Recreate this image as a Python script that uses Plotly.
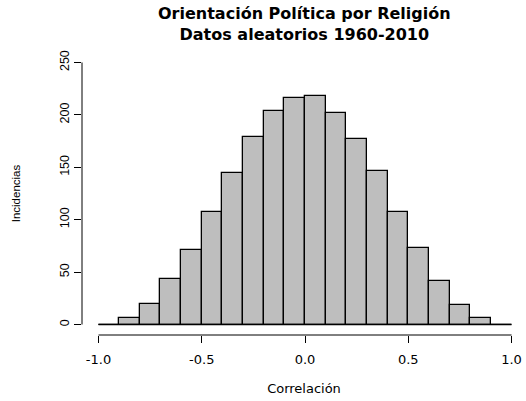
import plotly.graph_objects as go

# histogram bins (left edges) and counts
bin_edges = [-1.0, -0.9, -0.8, -0.7, -0.6, -0.5, -0.4, -0.3, -0.2, -0.1,
             0.0, 0.1, 0.2, 0.3, 0.4, 0.5, 0.6, 0.7, 0.8, 0.9, 1.0]
counts = [0, 6, 20, 43, 71, 107, 145, 179, 204, 216,
          218, 202, 177, 146, 107, 73, 42, 19, 6, 0]
x_ticks = [-1.0, -0.5, 0.0, 0.5, 1.0]
x_ticklabels = ['-1.0', '-0.5', '0.0', '0.5', '1.0']
y_ticks = [0, 50, 100, 150, 200, 250]
title_text = '<b>Orientación Política por Religión<br>Datos aleatorios 1960-2010</b>'

centers = [(a + b) / 2 for a, b in zip(bin_edges[:-1], bin_edges[1:])]
widths = [b - a for a, b in zip(bin_edges[:-1], bin_edges[1:])]

font = 'Liberation Sans, Arial, sans-serif'
wide_font = 'DejaVu Sans, Verdana, sans-serif'  # reference text is wide

fig = go.Figure()
fig.add_trace(go.Bar(x=centers, y=counts, width=widths,
                     marker=dict(color='#BEBEBE', line=dict(color='black', width=1.3)),
                     hoverinfo='x+y'))
# baseline drawn by the empty bins (R draws their border)
fig.add_trace(go.Scatter(x=[bin_edges[0], bin_edges[-1]], y=[0, 0], mode='lines',
                         line=dict(color='black', width=1.3), hoverinfo='skip'))

# R style axis lines, only spanning the tick range
fig.add_shape(type='line', xref='x', yref='paper', x0=x_ticks[0], x1=x_ticks[-1],
              y0=0, y1=0, line=dict(color='black', width=1))
fig.add_shape(type='line', xref='paper', yref='y', x0=0, x1=0,
              y0=y_ticks[0], y1=y_ticks[-1], line=dict(color='black', width=1))

# title as annotation (two lines, bold)
fig.add_annotation(text=title_text, xref='paper', yref='paper', x=0.5, y=1.178,
                   xanchor='center', yanchor='top', showarrow=False,
                   font=dict(family=wide_font, size=16, color='black'))

fig.update_layout(
    width=526, height=401,
    margin=dict(l=82, r=0, t=52, b=66),
    paper_bgcolor='white', plot_bgcolor='white',
    showlegend=False, bargap=0,
    font=dict(family=font, size=12, color='black'),
    xaxis=dict(range=[-1.08, 1.07], tickvals=x_ticks, ticktext=x_ticklabels,
               ticks='outside', ticklen=7, tickcolor='black', showgrid=False,
               zeroline=False, showline=False, automargin=False,
               tickfont=dict(family=wide_font, size=13), ticklabelstandoff=5,
               title=dict(text='Correlación', font=dict(family=wide_font, size=13),
                          standoff=18)),
    yaxis=dict(range=[-10, 260], tickvals=y_ticks, ticks='outside', ticklen=7,
               tickcolor='black', showgrid=False, zeroline=False, showline=False,
               tickangle=-90, tickfont=dict(size=12.5), automargin=False,
               title=dict(text='Incidencias', font=dict(size=11.5), standoff=34)),
)

# the page's default body margin would shift the figure by 8px
fig.write_html("out.html", config={'displayModeBar': False},
               post_script="document.body.style.margin='0';")
